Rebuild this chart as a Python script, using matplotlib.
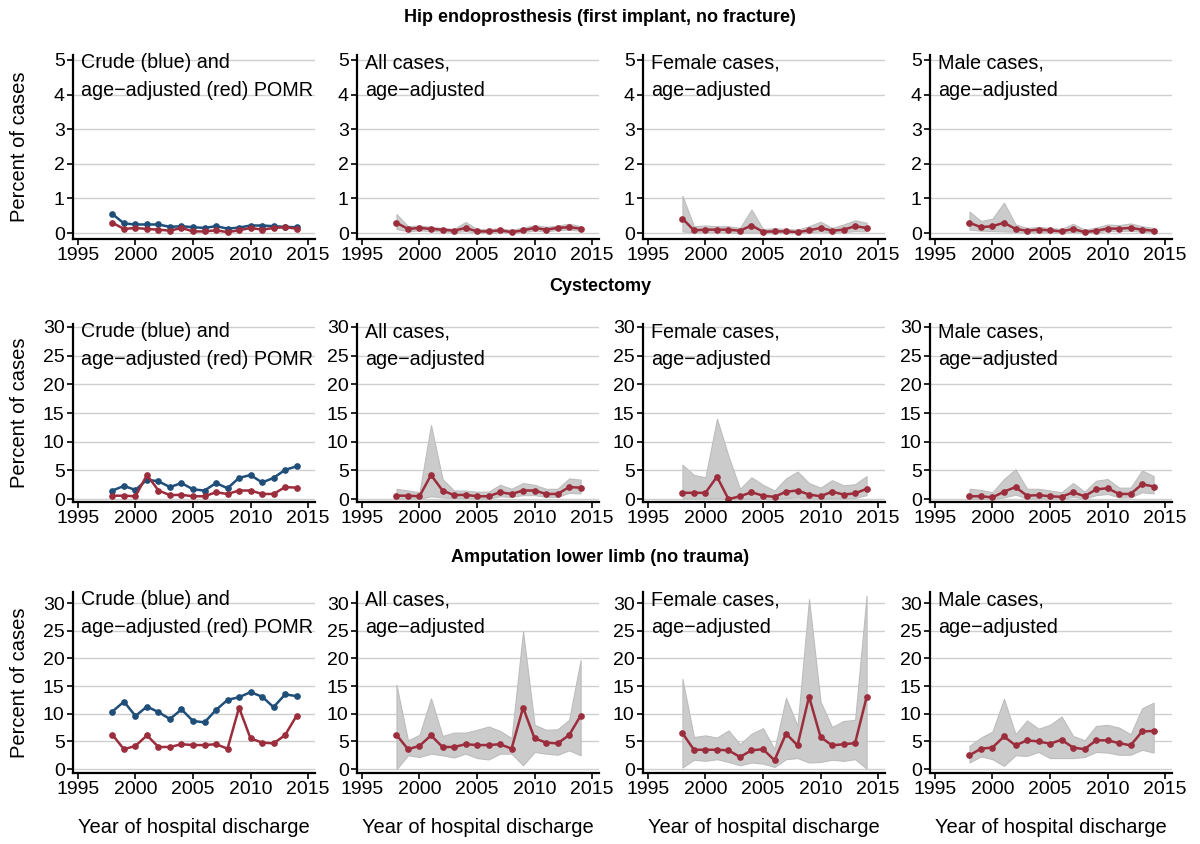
import numpy as np
import matplotlib.pyplot as plt

plt.rcParams['font.family'] = ['Liberation Sans', 'DejaVu Sans']

# ------------------------------------------------------------------
# Data
# ------------------------------------------------------------------
years = list(range(1998, 2015))

# Hip endoprosthesis
hip_crude = [0.55, 0.28, 0.25, 0.25, 0.25, 0.18, 0.20, 0.17, 0.15, 0.20, 0.13, 0.16, 0.22, 0.22, 0.20, 0.18, 0.17]
hip_all = [0.30, 0.12, 0.15, 0.12, 0.10, 0.07, 0.15, 0.05, 0.05, 0.08, 0.03, 0.08, 0.15, 0.10, 0.15, 0.17, 0.13]
hip_all_lo = [0.12, 0.05, 0.08, 0.06, 0.05, 0.03, 0.06, 0.01, 0.01, 0.03, 0.00, 0.03, 0.08, 0.05, 0.09, 0.10, 0.07]
hip_all_hi = [0.55, 0.20, 0.22, 0.18, 0.15, 0.12, 0.32, 0.12, 0.12, 0.14, 0.09, 0.16, 0.23, 0.18, 0.22, 0.27, 0.20]
hip_fem = [0.42, 0.08, 0.10, 0.10, 0.10, 0.07, 0.22, 0.04, 0.05, 0.05, 0.03, 0.08, 0.15, 0.07, 0.10, 0.20, 0.15]
hip_fem_lo = [0.05, 0.02, 0.03, 0.03, 0.02, 0.01, 0.02, 0.00, 0.00, 0.00, 0.00, 0.02, 0.05, 0.02, 0.03, 0.06, 0.05]
hip_fem_hi = [1.08, 0.20, 0.22, 0.20, 0.20, 0.15, 0.68, 0.12, 0.14, 0.12, 0.10, 0.20, 0.33, 0.15, 0.25, 0.37, 0.30]
hip_male = [0.30, 0.17, 0.20, 0.30, 0.12, 0.07, 0.10, 0.08, 0.05, 0.12, 0.03, 0.07, 0.13, 0.13, 0.15, 0.10, 0.07]
hip_male_lo = [0.10, 0.07, 0.06, 0.05, 0.04, 0.02, 0.03, 0.03, 0.01, 0.04, 0.00, 0.02, 0.06, 0.06, 0.07, 0.04, 0.02]
hip_male_hi = [0.62, 0.35, 0.42, 0.88, 0.25, 0.15, 0.18, 0.15, 0.12, 0.27, 0.10, 0.16, 0.25, 0.23, 0.28, 0.20, 0.15]

# Cystectomy
cys_crude = [1.5, 2.3, 1.6, 3.4, 3.1, 2.1, 2.8, 1.7, 1.5, 2.8, 1.9, 3.7, 4.2, 2.9, 3.7, 5.1, 5.7]
cys_all = [0.6, 0.6, 0.5, 4.2, 1.5, 0.7, 0.75, 0.5, 0.5, 1.2, 0.9, 1.5, 1.5, 0.9, 0.9, 2.1, 2.0]
cys_all_lo = [0.1, 0.1, 0.05, 0.5, 0.3, 0.2, 0.2, 0.1, 0.1, 0.5, 0.4, 0.7, 0.7, 0.4, 0.4, 1.1, 1.0]
cys_all_hi = [1.8, 1.5, 1.2, 12.9, 3.5, 1.5, 1.5, 1.3, 1.3, 2.5, 1.8, 2.8, 2.5, 1.8, 1.8, 3.6, 3.4]
cys_fem = [1.1, 1.1, 1.1, 3.9, 0.0, 0.5, 1.2, 0.6, 0.4, 1.3, 1.5, 0.8, 0.5, 1.3, 0.8, 1.0, 1.8]
cys_fem_lo = [0.1, 0.1, 0.1, 0.2, 0.0, 0.0, 0.1, 0.05, 0.0, 0.2, 0.3, 0.1, 0.05, 0.2, 0.1, 0.2, 0.7]
cys_fem_hi = [6.0, 4.2, 3.8, 14.0, 7.5, 1.8, 3.8, 2.5, 1.5, 3.6, 4.8, 2.8, 2.0, 3.3, 2.4, 2.6, 4.0]
cys_male = [0.5, 0.5, 0.3, 1.3, 2.1, 0.6, 0.7, 0.5, 0.4, 1.2, 0.5, 1.7, 1.9, 0.9, 0.9, 2.6, 2.2]
cys_male_lo = [0.05, 0.05, 0.02, 0.3, 0.8, 0.1, 0.15, 0.1, 0.05, 0.4, 0.1, 0.7, 0.9, 0.3, 0.3, 1.2, 1.0]
cys_male_hi = [1.8, 1.6, 1.2, 3.5, 5.2, 1.8, 1.8, 1.5, 1.2, 2.8, 1.3, 3.2, 3.5, 2.0, 2.0, 5.0, 4.0]

# Amputation lower limb
amp_crude = [10.4, 12.2, 9.6, 11.3, 10.3, 9.05, 10.8, 8.7, 8.45, 10.7, 12.5, 13.0, 13.9, 13.1, 11.2, 13.5, 13.2]
amp_all = [6.2, 3.6, 4.2, 6.1, 4.0, 4.0, 4.5, 4.35, 4.35, 4.5, 3.7, 11.1, 5.55, 4.8, 4.65, 6.15, 9.65]
amp_all_lo = [0.0, 2.5, 2.2, 2.8, 2.5, 2.1, 2.8, 2.0, 1.75, 2.8, 2.8, 0.7, 3.1, 2.8, 2.6, 3.4, 2.5]
amp_all_hi = [15.2, 5.2, 6.2, 12.8, 6.0, 6.6, 6.6, 7.1, 7.7, 6.9, 5.6, 24.9, 8.0, 7.1, 7.2, 8.9, 19.7]
amp_fem = [6.5, 3.5, 3.5, 3.5, 3.4, 2.2, 3.4, 3.6, 1.6, 6.4, 4.3, 13.1, 5.8, 4.3, 4.5, 4.7, 13.0]
amp_fem_lo = [0.3, 1.7, 1.5, 1.8, 1.3, 0.7, 1.2, 1.0, 0.4, 1.8, 2.0, 1.2, 1.3, 1.7, 1.5, 1.8, 0.1]
amp_fem_hi = [16.3, 5.8, 6.1, 5.7, 7.0, 4.5, 6.4, 7.4, 3.6, 12.9, 7.8, 30.7, 12.2, 7.6, 8.7, 8.9, 31.3]
amp_male = [2.5, 3.7, 3.9, 5.9, 4.3, 5.2, 5.0, 4.6, 5.3, 3.9, 3.6, 5.2, 5.2, 4.7, 4.3, 6.8, 6.9]
amp_male_lo = [1.2, 2.3, 1.8, 0.6, 2.5, 2.4, 3.1, 2.0, 2.0, 2.0, 2.2, 3.1, 3.0, 2.6, 2.6, 3.5, 3.0]
amp_male_hi = [4.2, 5.7, 6.8, 12.7, 6.3, 8.8, 7.3, 8.0, 9.5, 6.0, 5.2, 7.8, 8.0, 7.5, 6.3, 11.0, 12.0]

row_titles = ['Hip endoprosthesis (first implant, no fracture)',
              'Cystectomy',
              'Amputation lower limb (no trauma)']
panel_labels = ['Crude (blue) and\nage\u2212adjusted (red) POMR',
                'All cases,\nage\u2212adjusted',
                'Female cases,\nage\u2212adjusted',
                'Male cases,\nage\u2212adjusted']

rows = [
    dict(crude=hip_crude, adj=hip_all,
         bands=[(hip_all, hip_all_lo, hip_all_hi), (hip_fem, hip_fem_lo, hip_fem_hi),
                (hip_male, hip_male_lo, hip_male_hi)],
         ylim=(-0.17, 5.14), yticks=[0, 1, 2, 3, 4, 5]),
    dict(crude=cys_crude, adj=cys_all,
         bands=[(cys_all, cys_all_lo, cys_all_hi), (cys_fem, cys_fem_lo, cys_fem_hi),
                (cys_male, cys_male_lo, cys_male_hi)],
         ylim=(-0.5, 30.5), yticks=[0, 5, 10, 15, 20, 25, 30]),
    dict(crude=amp_crude, adj=amp_all,
         bands=[(amp_all, amp_all_lo, amp_all_hi), (amp_fem, amp_fem_lo, amp_fem_hi),
                (amp_male, amp_male_lo, amp_male_hi)],
         ylim=(-0.7, 32.0), yticks=[0, 5, 10, 15, 20, 25, 30]),
]

# ------------------------------------------------------------------
# Layout (figure fractions)
# ------------------------------------------------------------------
BLUE = '#1f4e79'
RED = '#9b2d3c'
BAND = '#cbcbcb'

lefts = [0.0608, 0.2975, 0.5358, 0.775]
width = 0.2017
bottoms = [0.7168, 0.4052, 0.0841]
heights = [0.218, 0.2109, 0.2145]
title_y = [1 - 18 / 844, 1 - 287 / 844, 1 - 557 / 844]

fig = plt.figure(figsize=(12, 8.44), dpi=100)

for r, row in enumerate(rows):
    fig.text(0.5, title_y[r], row_titles[r], ha='center', va='center',
             fontsize=13, fontweight='bold')
    for c in range(4):
        ax = fig.add_axes([lefts[c], bottoms[r], width, heights[r]])
        ax.set_axisbelow(True)
        ax.yaxis.grid(True, color='#cfcfcf', linewidth=1.0)

        if c == 0:
            ax.plot(years, row['crude'], color=BLUE, linewidth=1.8,
                    marker='o', markersize=3.8)
            ax.plot(years, row['adj'], color=RED, linewidth=1.8,
                    marker='o', markersize=3.8)
            ax.set_ylabel('Percent of cases', fontsize=14.5)
            # same x position for every row
            ax.yaxis.set_label_coords(-0.182, 0.5)
        else:
            mid, lo, hi = row['bands'][c - 1]
            ax.fill_between(years, lo, hi, color=BAND, edgecolor='#bdbdbd',
                            linewidth=0.8)
            ax.plot(years, mid, color=RED, linewidth=1.8,
                    marker='o', markersize=3.8)

        ax.set_xlim(1994.57, 2015.6)
        ax.set_ylim(*row['ylim'])
        ax.set_xticks([1995, 2000, 2005, 2010, 2015])
        ax.set_yticks(row['yticks'])
        ax.tick_params(labelsize=14, width=1.2, length=4, pad=2)

        for s in ['top', 'right']:
            ax.spines[s].set_visible(False)
        for s in ['left', 'bottom']:
            ax.spines[s].set_linewidth(1.6)

        ax.text(0.035, 1.01, panel_labels[c], transform=ax.transAxes,
                ha='left', va='top', fontsize=14.2, linespacing=1.6)

        if r == 2:
            ax.set_xlabel('Year of hospital discharge', fontsize=14.5, labelpad=14)

plt.savefig('out.png', dpi=100)
